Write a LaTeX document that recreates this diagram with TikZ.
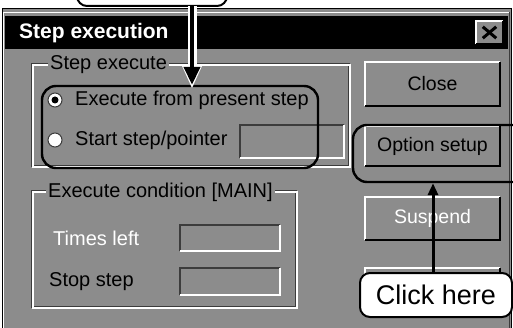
\documentclass[tikz,border=0pt]{standalone}
\usepackage{fontspec}
\setmainfont{Liberation Sans}
\usetikzlibrary{arrows.meta}
\definecolor{dlg}{RGB}{140,140,140}
\definecolor{dkedge}{RGB}{60,60,60}
\newcommand\fsz[1]{\fontsize{#1}{#1}\selectfont}
\begin{document}
\begin{tikzpicture}[x=1pt,y=-1pt,
  lbl/.style={anchor=west, inner sep=0, font=\fsz{20}},
  dis/.style={text=white},
  btn/.style={fill=dlg, minimum width=135, inner sep=0, font=\fsz{19.5}},
  tbox/.style={fill=dlg, inner sep=0},
  grp/.style={draw=white, line width=1.2},
  grpsh/.style={draw=dkedge, line width=1.2},
  hl/.style={draw=black, line width=2.4, rounded corners=14},
  radio/.style={circle, fill=white, draw=dkedge, line width=1, minimum size=14, inner sep=0},
  callout/.style={draw=black, line width=2, fill=white, rounded corners=10, inner sep=0}]
\useasboundingbox (0,0) rectangle (513,328);
\clip (0,0) rectangle (513,328);
\fill[white] (0,0) rectangle (513,328);
% callout at the top (cut off)
\node[callout, minimum width=150, minimum height=40] (top) at (152,-14) {};
% dialog body
\fill[dlg] (2,9) rectangle (511,340);
\draw[black, line width=1] (2,9) rectangle (511,340);
\draw[white, line width=1.5] (4,12.5) -- (509,12.5);
\draw[white, line width=1.5] (3.5,12) -- (3.5,340);
\draw[dkedge, line width=1.5] (509.5,12) -- (509.5,340);
% title bar
\fill[black] (5,16) rectangle (508,49);
\node[anchor=west, inner sep=0, text=white, font=\bfseries\fsz{21}] (title) at (19,33) {Step execution};
\node[fill=dlg, minimum width=27, minimum height=23, inner sep=0] (xbtn) at (489.5,32.5) {};
\draw[white, line width=1.5] (xbtn.south west) -- (xbtn.north west) -- (xbtn.north east);
\draw[black, line width=1.5] (xbtn.north east) -- (xbtn.south east) -- (xbtn.south west);
\draw[black, line width=3] ([shift={(7,6)}]xbtn.north west) -- ([shift={(-7,-6)}]xbtn.south east);
\draw[black, line width=3] ([shift={(-7,6)}]xbtn.north east) -- ([shift={(7,-6)}]xbtn.south west);
% group: Step execute
\draw[grpsh] (32,64) rectangle (349,166);
\draw[grp] (33,65) rectangle (350,167);
\node[lbl, fill=dlg, inner xsep=2] (g1) at (48,65) {Step execute};
\node[radio] (r1) at (55,100) {};
\fill[black] (r1) circle (3.5);
\node[lbl] (t1) at (75,100) {Execute from present step};
\node[radio] (r2) at (55,140) {};
\node[lbl] (t2) at (75,140) {Start step/pointer};
\node[tbox, minimum width=104, minimum height=33] (tb1) at (292,141.5) {};
% group: Execute condition
\draw[grpsh] (32,191) rectangle (296,307);
\draw[grp] (33,192) rectangle (297,308);
\node[lbl, fill=dlg, inner xsep=2] (g2) at (46,192) {Execute condition [MAIN]};
\node[lbl, dis] (t3) at (53,238) {Times left};
\node[tbox, minimum width=100, minimum height=26] (tb2) at (230,238) {};
\node[lbl] (t4) at (49,282) {Stop step};
\node[tbox, minimum width=100, minimum height=27] (tb3) at (230,281.5) {};
\foreach \n in {tb1,tb2,tb3} {
  \draw[draw=dkedge, line width=2] (\n.south west) -- (\n.north west) -- (\n.north east);
  \draw[draw=white, line width=2] (\n.north east) -- (\n.south east) -- (\n.south west);
}
% buttons
\node[btn, minimum height=44] (close) at (432.5,84) {Close};
\node[btn, minimum height=40] (option) at (432.5,146) {Option setup};
\node[btn, minimum height=43, text=white] (suspend) at (432.5,218.5) {Suspend};
\node[btn, minimum height=43] (fourth) at (432.5,289.5) {};
\foreach \n in {close,option,suspend,fourth} {
  \draw[draw=white, line width=2] (\n.south west) -- (\n.north west) -- (\n.north east);
  \draw[draw=black, line width=2] (\n.north east) -- (\n.south east) -- (\n.south west);
}
% highlights
\node[hl, minimum width=276, minimum height=82, inner sep=0] (hl1) at (180,127) {};
\node[hl, minimum width=180, minimum height=57, inner sep=0] (hl2) at (443,153.5) {};
% callout at the bottom
\node[callout, minimum width=152, minimum height=44, font=\fsz{27}] (click) at (436,295) {Click here};
% arrows
\coordinate (ta) at (192,6);
\draw[white, line width=9] (ta) -- (192,68);
\fill[white] (182,66) -- (202,66) -- (192,88) -- cycle;
\draw[black, line width=4, -{Triangle[length=18,width=16]}] (ta) -- (ta |- hl1.north);
\draw[black, line width=3, -{Triangle[length=12,width=10]}] (click.north -| 433,0) -- (433,0 |- hl2.south);
\end{tikzpicture}
\end{document}
